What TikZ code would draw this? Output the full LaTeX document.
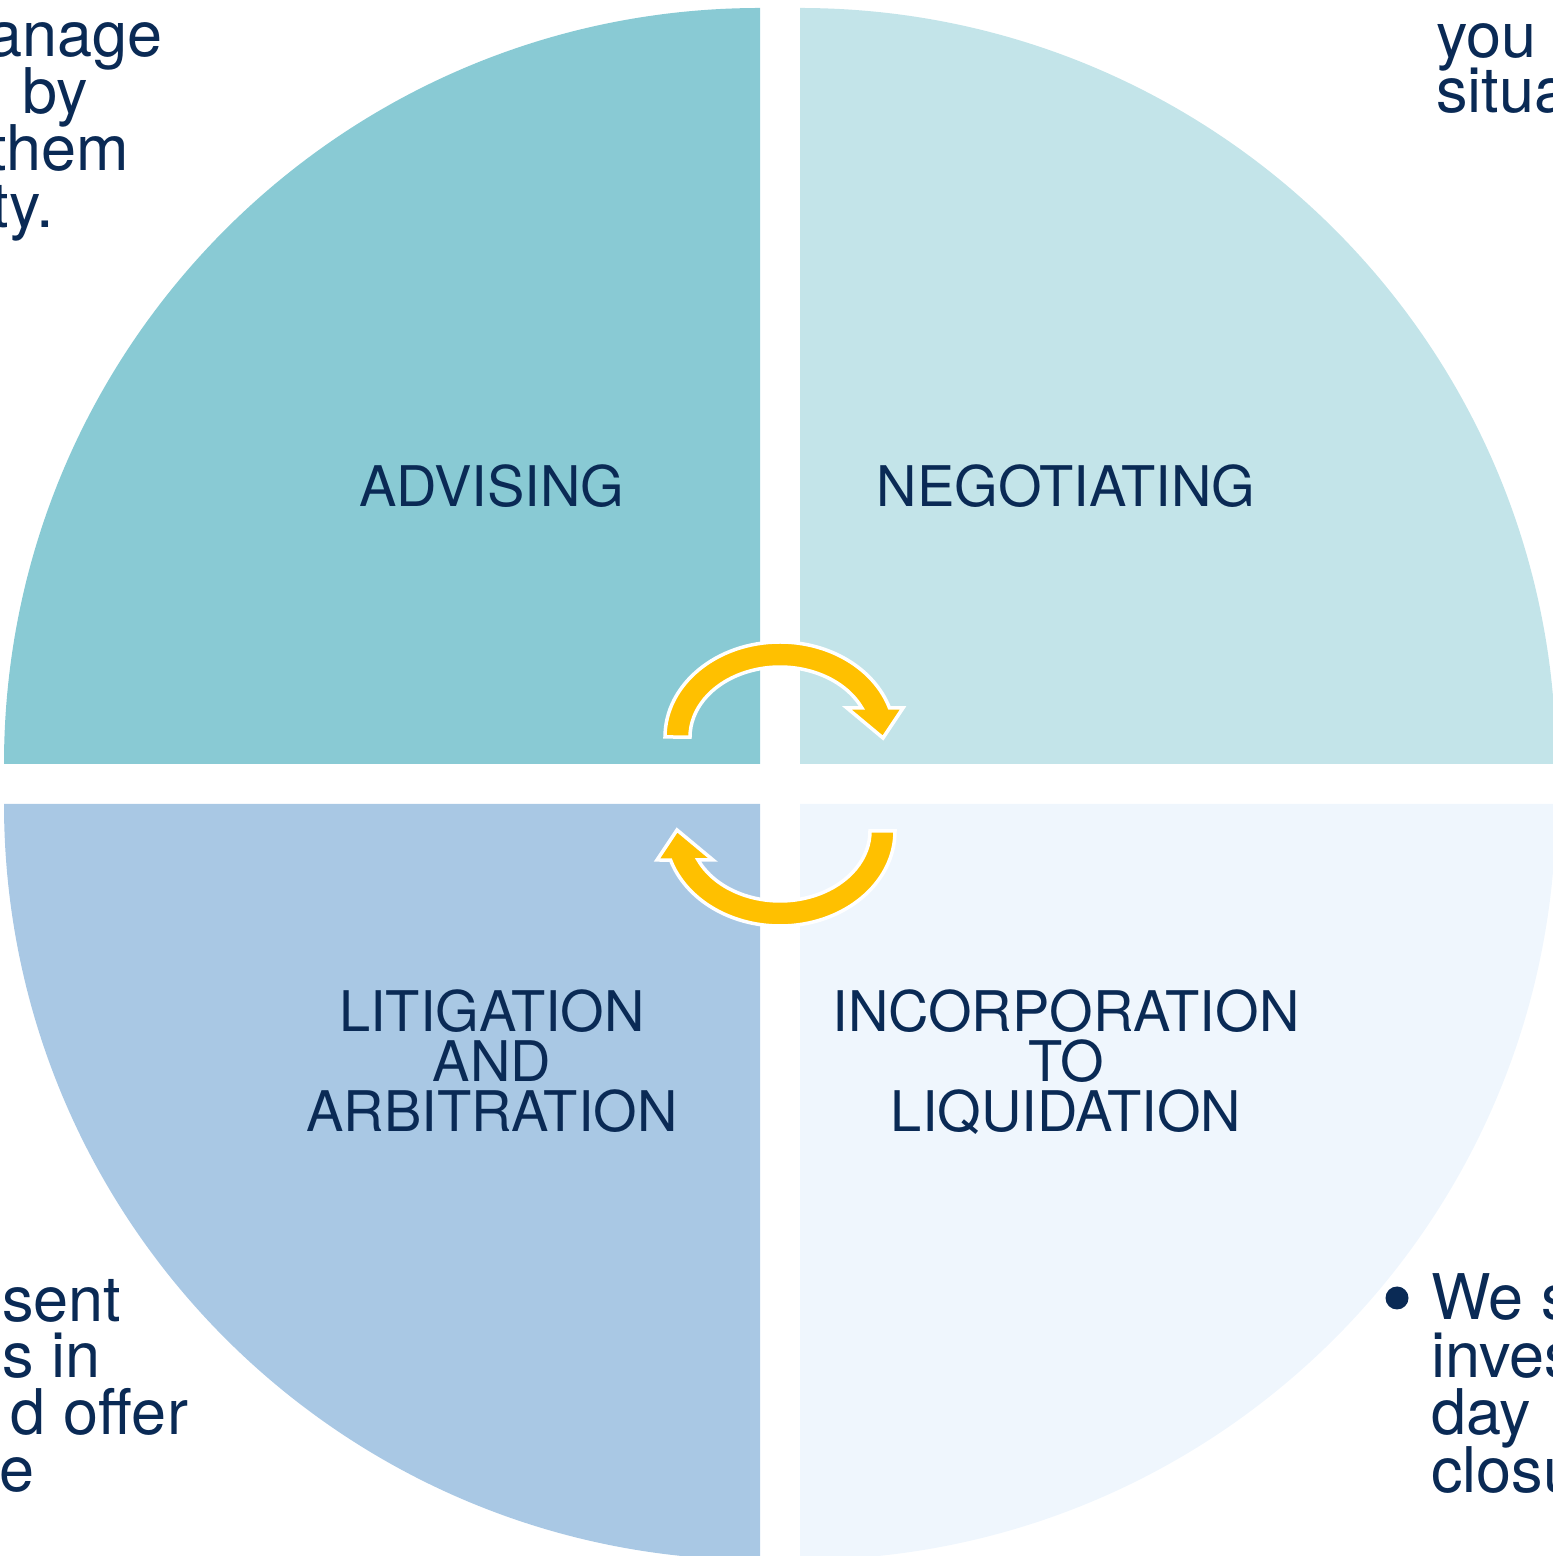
\documentclass[tikz,border=0pt]{standalone}
\usepackage{fontspec}
\setmainfont{TeX Gyre Heros}
\definecolor{qTL}{HTML}{89CAD4}
\definecolor{qTR}{HTML}{C3E4E9}
\definecolor{qBL}{HTML}{A9C8E4}
\definecolor{qBR}{HTML}{EFF6FD}
\definecolor{navy}{HTML}{0A2A55}
\definecolor{gold}{HTML}{FFC000}
\tikzset{
  sidetext/.style={font=\fontsize{63}{57}\selectfont, text=navy, inner sep=0pt, outer sep=0pt},
  quadlabel/.style={font=\fontsize{56}{50}\selectfont, text=navy, align=center, inner sep=0pt, outer sep=0pt},
  cyclearrow/.style={fill=gold, draw=white, line width=3.5pt, line join=miter}
}
\begin{document}
\begin{tikzpicture}[x=1pt,y=1pt]
\useasboundingbox (0,0) rectangle (1553,1556);
\clip (0,0) rectangle (1553,1556);
% quadrants
\fill[qTL] (760,792) -- (4,792) arc[start angle=180,end angle=90,radius=756] -- cycle;
\fill[qTR] (800,792) -- (800,1548) arc[start angle=90,end angle=0,radius=756] -- cycle;
\fill[qBL] (760,752) -- (4,752) arc[start angle=180,end angle=270,radius=756] -- cycle;
\fill[qBR] (800,752) -- (1556,752) arc[start angle=0,end angle=-90,radius=756] -- cycle;
% labels
\node[quadlabel, anchor=base] (advising) at (492,1049) {ADVISING};
\node[quadlabel, anchor=base] (negotiating) at (1066,1049) {NEGOTIATING};
\node[quadlabel, anchor=base] (litigation) at (492,424) {LITIGATION\\AND\\ARBITRATION};
\node[quadlabel, anchor=base] (incorporation) at (1066,424) {INCORPORATION\\TO\\LIQUIDATION};
% cycle arrows
\path[cyclearrow] (665,819) arc[start angle=180,end angle=17.8,x radius=115,y radius=95]
  -- (903,848) -- (883,818) -- (847,848) -- (861.9,848)
  arc[start angle=24.5,end angle=180,x radius=90,y radius=70] -- cycle;
\begin{scope}[rotate around={180:(780,772)}]
\path[cyclearrow] (665,819) arc[start angle=180,end angle=17.8,x radius=115,y radius=95]
  -- (903,848) -- (883,818) -- (847,848) -- (861.9,848)
  arc[start angle=24.5,end angle=180,x radius=90,y radius=70] -- cycle;
\end{scope}
% side texts (cropped by the picture edge)
\node[sidetext, anchor=base east] (tl1) at (163,1499) {manage};
\node[sidetext, anchor=base east] (tl2) at (88,1442) {by};
\node[sidetext, anchor=base east] (tl3) at (129,1385) {them};
\node[sidetext, anchor=base east] (tl4) at (54,1328) {certainty.};
\node[sidetext, anchor=base west] (tr1) at (1436,1498) {you};
\node[sidetext, anchor=base west] (tr2) at (1436,1443) {situation};
\node[sidetext, anchor=base east] (bl1) at (121.5,234) {sent};
\node[sidetext, anchor=base east] (bl2) at (101,178) {s in};
\node[sidetext, anchor=base east] (bl3) at (188,121) {d offer};
\node[sidetext, anchor=base east] (bl4) at (34.5,64) {e};
\node[circle, fill=navy, minimum size=23pt, inner sep=0pt] (bullet) at (1397,258) {};
\node[sidetext, anchor=base west] (br1) at (1431,236) {We support};
\node[sidetext, anchor=base west] (br2) at (1431,178) {investors};
\node[sidetext, anchor=base west] (br3) at (1431,121) {day};
\node[sidetext, anchor=base west] (br4) at (1431,63) {closure};
\end{tikzpicture}
\end{document}
